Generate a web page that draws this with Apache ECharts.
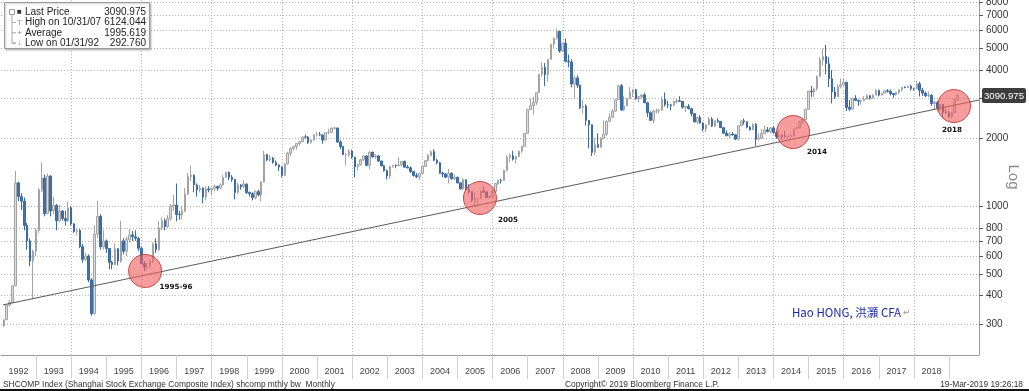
<!DOCTYPE html>
<html><head><meta charset="utf-8">
<script src="https://cdn.jsdelivr.net/npm/echarts@6/dist/echarts.min.js"></script>
<style>html,body{margin:0;padding:0;background:#fff}#c{width:1029px;height:391px}</style>
</head><body><div id="c"></div>
<script>
// ---- DATA (monthly SHCOMP, Jan 1992 .. Mar 2019) ----
const startYear = 1992;
const openP = [
293,313,364,374,443,1266,1100,1050,820,700,570,630,
780,1180,1330,925,1358,950,1007,860,950,880,860,980,
833,770,780,660,580,600,470,333,750,900,660,700,
648,563,550,646,570,700,630,710,745,730,720,650,
555,537,540,570,680,640,800,860,810,880,1000,1010,
917,915,950,1130,1350,1370,1240,1180,1200,1097,1190,1180,
1194,1220,1200,1240,1340,1410,1340,1310,1150,1240,1220,1250,
1147,1134,1090,1158,1120,1280,1690,1600,1630,1560,1520,1490,
1367,1535,1714,1800,1836,1894,1928,2023,2021,1910,1961,2070,
2073,2065,1960,2112,2119,2214,2218,1920,1834,1690,1690,1750,
1646,1491,1524,1603,1667,1515,1732,1651,1667,1581,1507,1434,
1357,1500,1512,1510,1521,1576,1487,1476,1421,1367,1348,1397,
1497,1590,1675,1742,1595,1555,1399,1386,1342,1396,1320,1340,
1266,1191,1306,1181,1159,1060,1080,1083,1162,1155,1092,1099,
1161,1258,1299,1298,1440,1641,1672,1612,1658,1752,1837,2099,
2675,2786,2881,3183,3841,4109,3820,4471,5218,5552,5954,4871,
5262,4383,4348,3473,3693,3433,2736,2775,2397,2293,1729,1871,
1821,1991,2082,2373,2477,2633,2959,3412,2667,2779,2996,3195,
3277,2989,3051,3110,2870,2592,2398,2638,2639,2656,2979,2820,
2808,2790,2905,2928,2911,2743,2762,2701,2568,2359,2468,2333,
2199,2292,2428,2262,2396,2372,2225,2103,2047,2086,2069,1980,
2269,2385,2365,2236,2178,2300,1979,1994,2098,2175,2141,2220,
2116,2033,2056,2033,2026,2039,2048,2201,2218,2364,2420,2683,
3235,3210,3310,3748,4441,4612,4277,3664,3206,3053,3383,3445,
3539,2738,2688,3004,2938,2917,2930,2979,3085,3005,3100,3250,
3104,3159,3242,3223,3155,3117,3192,3273,3361,3349,3393,3317,
3307,3481,3259,3169,3082,3095,2847,2876,2725,2821,2603,2588,
2494,2585,2941];
const highP = [
313,366,382,445,1429,1280,1140,1090,840,720,640,800,
1200,1558,1380,1392,1370,1100,1020,1010,960,950,1045,1000,
840,800,790,680,620,610,480,820,1052,920,780,710,
650,570,680,650,860,720,730,790,775,780,725,660,
570,560,580,690,720,860,890,880,910,1020,1120,1258,
950,1000,1200,1400,1510,1380,1260,1240,1210,1220,1225,1210,
1240,1230,1260,1370,1420,1420,1370,1320,1270,1250,1300,1260,
1160,1150,1170,1180,1290,1756,1700,1680,1650,1590,1530,1500,
1550,1740,1820,1840,1900,1950,2030,2070,2040,1970,2080,2125,
2130,2070,2120,2200,2230,2245,2220,1960,1850,1720,1780,1776,
1650,1530,1620,1680,1680,1748,1740,1700,1680,1590,1520,1450,
1510,1520,1530,1650,1580,1590,1520,1500,1430,1400,1400,1500,
1600,1700,1760,1783,1620,1570,1420,1400,1460,1410,1380,1350,
1270,1330,1310,1250,1160,1150,1090,1180,1220,1160,1110,1180,
1260,1310,1320,1445,1680,1700,1757,1660,1760,1850,2100,2700,
2995,3050,3200,3850,4335,4300,4470,5220,5560,6124.044,5960,5300,
5522,4695,4470,3790,3790,3450,2950,2820,2410,2300,2000,2100,
2020,2400,2400,2580,2690,2990,3450,3478,3070,3000,3361,3300,
3306,3070,3140,3180,2890,2630,2660,2700,2700,3060,3186,2930,
2840,2940,3000,3067,2920,2770,2830,2720,2580,2490,2530,2350,
2300,2480,2478,2400,2450,2380,2230,2160,2120,2130,2080,2280,
2400,2444,2370,2260,2330,2330,2100,2200,2270,2240,2240,2260,
2140,2180,2080,2150,2060,2090,2210,2250,2370,2440,2700,3240,
3406,3320,3800,4570,4986,5178,4572,4006,3370,3460,3680,3684,
3540,2950,3020,3100,2960,2960,3070,3140,3100,3130,3300,3280,
3180,3260,3300,3290,3160,3200,3290,3370,3390,3420,3450,3320,
3587,3560,3340,3220,3220,3140,2920,2920,2830,2830,2700,2640,
2620,2998,3129];
const lowP = [
292.76,312,358,372,440,1050,960,780,640,540,386,600,
760,1150,900,920,900,920,780,850,860,820,850,820,
760,740,650,560,570,460,325.89,330,720,640,640,620,
524,524,545,545,560,610,600,690,700,700,630,555,
513,520,530,560,620,630,780,780,800,860,950,855,
870,870,940,1120,1290,1150,1100,1150,1025,1060,1150,1120,
1160,1170,1190,1230,1330,1300,1280,1070,1130,1180,1200,1130,
1100,1060,1070,1110,1050,1270,1580,1570,1540,1500,1430,1340,
1360,1530,1660,1760,1780,1850,1920,1990,1880,1890,1950,2030,
2040,1890,1950,2080,2110,2180,1910,1790,1680,1514,1650,1620,
1339,1440,1510,1580,1500,1460,1640,1620,1570,1500,1420,1311,
1320,1480,1470,1500,1500,1480,1470,1400,1350,1330,1307,1380,
1490,1580,1660,1580,1530,1390,1340,1330,1260,1310,1300,1260,
1180,1180,1170,1130,1040,998,1004,1070,1140,1080,1075,1090,
1160,1240,1260,1295,1420,1560,1590,1540,1650,1720,1830,2090,
2670,2540,2810,3180,3750,3400,3560,4460,5030,5460,4780,4810,
4330,4120,3360,2990,3330,2690,2570,2280,1800,1664,1680,1814,
1814,1990,2037,2350,2450,2620,2950,2640,2640,2770,2990,3040,
2960,2890,2990,2860,2480,2380,2320,2570,2570,2650,2760,2720,
2660,2780,2850,2900,2700,2610,2680,2500,2350,2307,2320,2140,
2132,2280,2240,2240,2340,2220,2090,2040,2000,2050,1960,1949,
2260,2300,2210,2160,2170,1849,1950,1990,2090,2120,2100,2090,
1985,2030,1974,2020,1992,2010,2030,2180,2210,2300,2400,2680,
3050,3050,3250,3740,4190,3850,3373,2850,2983,3040,3320,3410,
2638,2640,2680,2930,2780,2810,2930,2960,2970,3000,3100,3060,
3090,3150,3180,3090,3020,3080,3130,3220,3330,3340,3250,3250,
3300,3060,3080,3040,3040,2780,2690,2650,2640,2449,2560,2460,
2440,2580,2940];
const closeP = [
313,364,374,443,1266,1100,1050,820,700,570,630,780,
1180,1330,925,1358,950,1007,860,950,880,860,980,833,
770,780,660,580,600,470,333,750,900,660,700,648,
563,550,646,570,700,630,710,745,730,720,650,555,
537,540,570,680,640,800,860,810,880,1000,1010,917,
915,950,1130,1350,1370,1240,1180,1200,1097,1190,1180,1194,
1220,1200,1240,1340,1410,1340,1310,1150,1240,1220,1250,1147,
1134,1090,1158,1120,1280,1690,1600,1630,1560,1520,1490,1367,
1535,1714,1800,1836,1894,1928,2023,2021,1910,1961,2070,2073,
2065,1960,2112,2119,2214,2218,1920,1834,1690,1690,1750,1646,
1491,1524,1603,1667,1515,1732,1651,1667,1581,1507,1434,1357,
1500,1512,1510,1521,1576,1487,1476,1421,1367,1348,1397,1497,
1590,1675,1742,1595,1555,1399,1386,1342,1396,1320,1340,1266,
1191,1306,1181,1159,1060,1080,1083,1162,1155,1092,1099,1161,
1258,1299,1298,1440,1641,1672,1612,1658,1752,1837,2099,2675,
2786,2881,3183,3841,4109,3820,4471,5218,5552,5954,4871,5262,
4383,4348,3473,3693,3433,2736,2775,2397,2293,1729,1871,1821,
1991,2082,2373,2477,2633,2959,3412,2667,2779,2996,3195,3277,
2989,3051,3110,2870,2592,2398,2638,2639,2656,2979,2820,2808,
2790,2905,2928,2911,2743,2762,2701,2568,2359,2468,2333,2199,
2292,2428,2262,2396,2372,2225,2103,2047,2086,2069,1980,2269,
2385,2365,2236,2178,2300,1979,1994,2098,2175,2141,2220,2116,
2033,2056,2033,2026,2039,2048,2201,2218,2364,2420,2683,3235,
3210,3310,3748,4441,4612,4277,3664,3206,3053,3383,3445,3539,
2738,2688,3004,2938,2917,2930,2979,3085,3005,3100,3250,3104,
3159,3242,3223,3155,3117,3192,3273,3361,3349,3393,3317,3307,
3481,3259,3169,3082,3095,2847,2876,2725,2821,2603,2588,2494,
2585,2941,3090.975];

const yTickValues = [300,400,500,600,700,800,1000,2000,3000,4000,5000,6000,7000,8000];
const yLabelValues = [300,400,500,600,700,800,1000,2000,4000,5000,6000,7000,8000];
const yearLabels = [1992,1993,1994,1995,1996,1997,1998,1999,2000,2001,2002,2003,2004,2005,2006,2007,2008,2009,2010,2011,2012,2013,2014,2015,2016,2017,2018];
const yearBoundaries = [1993,1994,1995,1996,1997,1998,1999,2000,2001,2002,2003,2004,2005,2006,2007,2008,2009,2010,2011,2012,2013,2014,2015,2016,2017,2018,2019];
const gridYears = [1994,1996,1998,2000,2002,2004,2006,2008,2010,2012,2014,2016,2018];
const trendDates = ['1992-01-20','2019-11-08'];
const trendValues = [364, 2951];
const circleNames = ['1995-96','2005','2014','2018'];
const circleDates = ['1996-02-08','2005-08-22','2014-07-23','2019-02-21'];
const circleValues = [515, 1085, 2128, 2776];
const lastPrice = 3090.975;
const legendRows = [
  ['Last Price', '3090.975'],
  ['High on 10/31/07', '6124.044'],
  ['Average', '1995.619'],
  ['Low on 01/31/92', '292.760']
];

// ---- style-only settings ----
const circleLabelOffsets = [[31,16],[28,22],[24,20],[-2,24]];
const axisMinLog = 2.3392, axisMaxLog = 3.9135;
const xMin = Date.UTC(1992,0,1), xMax = Date.UTC(2019,10,8);

const lg = v => Math.log10(v);
const lastLog = lg(lastPrice);

const candles = openP.map((o, i) => {
  const y = startYear + Math.floor(i / 12), m = i % 12;
  return [Date.UTC(y, m + 1, 0), lg(o), lg(closeP[i]), lg(lowP[i]), lg(highP[i])];
});
const trendData = trendDates.map((d, i) => [Date.parse(d), lg(trendValues[i])]);
const circleData = circleDates.map((d, i) => ({
  value: [Date.parse(d), lg(circleValues[i])],
  name: circleNames[i],
  label: { offset: circleLabelOffsets[i] }
}));

const chart = echarts.init(document.getElementById('c'), null, { renderer: 'canvas' });
const F = 'Liberation Sans, Arial, sans-serif';
const legendIcons = ['■', 'T', '+', '↓'];
const legendGraphics = [
  { type: 'rect', shape: { x: 4.5, y: 2.5, width: 145, height: 46 },
    style: { fill: '#fff', stroke: '#9a9a9a', lineWidth: 1, shadowBlur: 2, shadowColor: 'rgba(0,0,0,0.25)', shadowOffsetX: 1, shadowOffsetY: 1 }, z: 100 },
  { type: 'polyline', shape: { points: [[12, 14], [12, 43], [16, 43]] }, style: { stroke: '#aaa', lineWidth: 1, fill: null }, z: 101 },
  { type: 'rect', shape: { x: 9.5, y: 9.5, width: 5, height: 5 }, style: { fill: '#fff', stroke: '#999', lineWidth: 1 }, z: 102 }
];
legendRows.forEach((r, i) => {
  const yy = 12 + i * 10.4;
  if (i > 0) legendGraphics.push({ type: 'line', shape: { x1: 12, y1: yy, x2: 16, y2: yy }, style: { stroke: '#aaa', lineWidth: 1 }, z: 101 });
  legendGraphics.push({ type: 'text', x: 19.5, y: yy, style: { text: legendIcons[i], fill: i === 0 ? '#333' : '#888', font: '8px ' + F, align: 'center', verticalAlign: 'middle' }, z: 102 });
  legendGraphics.push({ type: 'text', x: 25, y: yy, style: { text: r[0], fill: '#222', font: '10px ' + F, align: 'left', verticalAlign: 'middle' }, z: 102 });
  legendGraphics.push({ type: 'text', x: 146, y: yy, style: { text: r[1], fill: '#222', font: '10px ' + F, align: 'right', verticalAlign: 'middle' }, z: 102 });
});

const option = {
  animation: false,
  backgroundColor: '#fff',
  grid: { left: 1, right: 50, top: 0, bottom: 36, containLabel: false, outerBoundsMode: 'none' },
  xAxis: [{
    type: 'value', min: xMin, max: xMax, position: 'bottom', scale: true,
    axisLine: { show: true, lineStyle: { color: '#9a9a9a', width: 1 } },
    axisTick: { show: true, customValues: yearBoundaries.map(y => Date.UTC(y, 0, 1)), length: 24, inside: false, lineStyle: { color: '#cfcfcf', width: 1 } },
    axisLabel: { show: true, customValues: yearLabels.map(y => Date.UTC(y, 6, 2)), formatter: v => String(new Date(v).getUTCFullYear()),
      color: '#444', fontSize: 9, fontFamily: F, margin: 12 },
    splitLine: { show: false }
  }, {
    type: 'value', min: xMin, max: xMax, position: 'bottom', scale: true,
    axisLine: { show: false }, axisLabel: { show: false },
    axisTick: { show: false, customValues: gridYears.map(y => Date.UTC(y, 0, 1)) },
    splitLine: { show: true, lineStyle: { color: '#b5b5b5', type: [1, 2], width: 1 } }
  }],
  yAxis: {
    type: 'value', position: 'right', min: axisMinLog, max: axisMaxLog, scale: true,
    axisLine: { show: true, lineStyle: { color: '#9a9a9a', width: 1 } },
    axisTick: { show: true, customValues: yTickValues.map(lg), length: 4, inside: false, lineStyle: { color: '#555' } },
    axisLabel: {
      show: true, customValues: yLabelValues.map(lg).concat([lastLog]), margin: 3,
      color: '#333', fontSize: 10, fontFamily: F,
      formatter: v => Math.abs(v - lastLog) < 1e-9 ? '{tag|' + lastPrice.toFixed(3) + '}' : '{n|' + Math.round(Math.pow(10, v)) + '}',
      rich: {
        n: { color: '#333', fontSize: 10, fontFamily: F, padding: [0, 0, 0, 4] },
        tag: { backgroundColor: '#3e3e3e', color: '#fff', fontSize: 9.6, fontFamily: F, padding: [3, 2, 2, 2], borderRadius: 2 }
      }
    },
    splitLine: { show: true, lineStyle: { color: '#b5b5b5', type: [1, 2], width: 1 } }
  },
  series: [{
    type: 'candlestick', xAxisIndex: 0, yAxisIndex: 0,
    data: candles, encode: { x: 0, y: [1, 2, 3, 4] },
    barWidth: 2,
    itemStyle: { color: '#dcdcdc', color0: '#3f74ae', borderColor: '#a3a3a3', borderColor0: '#3a6aa0', borderWidth: 1 },
    z: 2
  }, {
    type: 'line', xAxisIndex: 0, yAxisIndex: 0, data: trendData, symbol: 'none',
    lineStyle: { color: '#5a5a5a', width: 1 }, z: 3, silent: true
  }, {
    type: 'scatter', xAxisIndex: 0, yAxisIndex: 0, data: circleData,
    symbol: 'circle', symbolSize: 33,
    itemStyle: { color: 'rgba(240,96,96,0.62)', borderColor: 'rgba(190,50,50,0.85)', borderWidth: 1, opacity: 1 },
    label: { show: true, position: 'inside', formatter: p => p.name, color: '#111', fontWeight: 'bold', fontSize: 7.2, fontFamily: 'DejaVu Sans, sans-serif' },
    z: 4
  }],
  graphic: legendGraphics.concat([
    { type: 'text', x: 1013, y: 177, rotation: -Math.PI / 2, style: { text: 'Log', fill: '#8a8a8a', font: '15px ' + F, align: 'center', verticalAlign: 'middle' }, z: 50 },
    { type: 'text', x: 792, y: 313, style: { text: 'Hao HONG, 洪灝 CFA', fill: '#1e2aa8', font: '11.5px "Noto Sans CJK SC", sans-serif', align: 'left', verticalAlign: 'middle' }, z: 50 },
    { type: 'text', x: 903, y: 313, style: { text: '↵', fill: '#999', font: '9px "DejaVu Sans", sans-serif', align: 'left', verticalAlign: 'middle' }, z: 50 },
    { type: 'text', x: 3, y: 385, style: { text: 'SHCOMP Index (Shanghai Stock Exchange Composite Index) shcomp mthly bw  Monthly', fill: '#333', font: '8.4px ' + F, align: 'left', verticalAlign: 'middle' }, z: 50 },
    { type: 'text', x: 565, y: 385, style: { text: 'Copyright© 2019 Bloomberg Finance L.P.', fill: '#333', font: '8.4px ' + F, align: 'left', verticalAlign: 'middle' }, z: 50 },
    { type: 'text', x: 1023, y: 385, style: { text: '19-Mar-2019 19:26:18', fill: '#333', font: '8.4px ' + F, align: 'right', verticalAlign: 'middle' }, z: 50 },
    { type: 'rect', shape: { x: 0, y: 389, width: 1029, height: 2 }, style: { fill: '#111' }, z: 50 }
  ])
};
chart.setOption(option);
</script>
</body></html>
